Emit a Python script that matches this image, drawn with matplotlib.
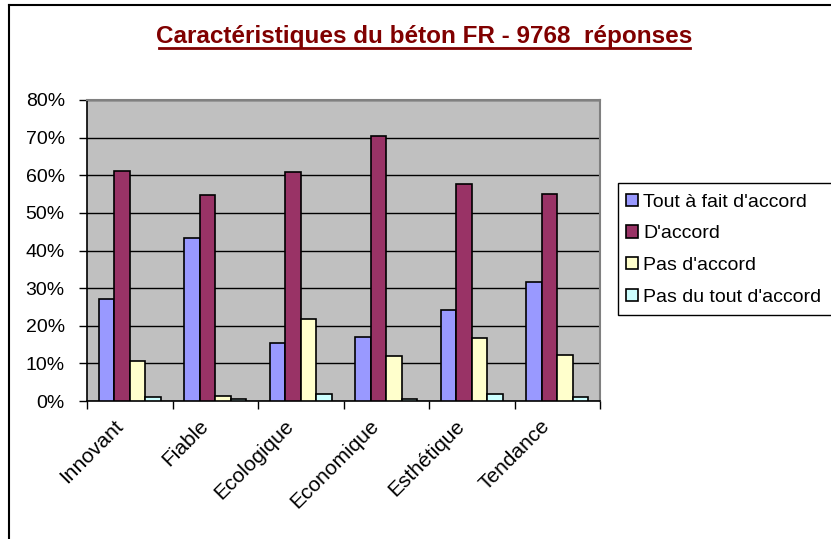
import matplotlib
matplotlib.use("Agg")
import matplotlib.pyplot as plt
import numpy as np
from matplotlib.patches import Rectangle
from matplotlib.lines import Line2D

categories = ["Innovant", "Fiable", "Ecologique", "Economique", "Esthétique", "Tendance"]
series_names = ["Tout à fait d'accord", "D'accord", "Pas d'accord", "Pas du tout d'accord"]
tout_a_fait = [27.1, 43.4, 15.3, 17.1, 24.1, 31.6]
d_accord = [61.2, 54.7, 60.8, 70.5, 57.7, 55.1]
pas_d_accord = [10.5, 1.4, 21.9, 11.9, 16.7, 12.3]
pas_du_tout = [1.0, 0.5, 1.9, 0.5, 1.9, 1.0]
colors = ["#9999FF", "#993366", "#FFFFCC", "#CCFFFF"]
yticks = [0, 10, 20, 30, 40, 50, 60, 70, 80]

plt.rcParams['font.family'] = ['Liberation Sans', 'DejaVu Sans']

W, H = 831, 539
fig = plt.figure(figsize=(W / 100, H / 100), dpi=100)
# outer border (top and left only visible)
fig.add_artist(Line2D([9 / W, 1], [1 - 5 / H, 1 - 5 / H], color='black', linewidth=1.5,
                      transform=fig.transFigure))
fig.add_artist(Line2D([9 / W, 9 / W], [0, 1 - 5 / H], color='black', linewidth=1.5,
                      transform=fig.transFigure))

ax = fig.add_axes([87 / W, 1 - 401 / H, (600 - 87) / W, (401 - 100) / H])
ax.set_facecolor("#C0C0C0")

x = np.arange(len(categories))
w = 0.18
allseries = [tout_a_fait, d_accord, pas_d_accord, pas_du_tout]
handles = []
for i, (vals, c, name) in enumerate(zip(allseries, colors, series_names)):
    b = ax.bar(x + (i - 1.5) * w, vals, width=w, color=c, edgecolor='black',
               linewidth=1.2, label=name, zorder=3)
    handles.append(b)

ax.set_xlim(-0.5, len(categories) - 0.5)
ax.set_ylim(0, 80)
ax.set_yticks(yticks)
ax.set_yticklabels([f"{v}%" for v in yticks], fontsize=14)
ax.yaxis.grid(True, color='black', linewidth=1, zorder=1)
ax.set_axisbelow(True)
ax.tick_params(axis='y', direction='out', length=6, width=1, pad=10)

# category labels (rotated), placed relative to category positions
ax.set_xticks(np.arange(-0.5, len(categories), 1.0))
ax.set_xticklabels([])
ax.tick_params(axis='x', direction='out', length=6, width=1)
for xi, lab in zip(x, categories):
    ax.annotate(lab, xy=(xi, 0), xycoords=('data', 'axes fraction'),
                xytext=(-10, -22), textcoords='offset pixels',
                rotation=45, ha='right', va='center', rotation_mode='anchor',
                fontsize=15, annotation_clip=False)

for s in ['top', 'right']:
    ax.spines[s].set_color('#808080')
    ax.spines[s].set_linewidth(1.5)
for s in ['left', 'bottom']:
    ax.spines[s].set_color('black')
    ax.spines[s].set_linewidth(1.2)

fig.text(424 / W, 1 - 37 / H, "Caractéristiques du béton FR - 9768  réponses",
         ha='center', va='center', fontsize=17.5, fontweight='bold', color='#800000')
fig.add_artist(Line2D([159 / W, 690 / W], [1 - 48 / H, 1 - 48 / H],
                      color='#800000', linewidth=2, transform=fig.transFigure))

# legend frame drawn manually (clipped by right edge as in the reference)
fig.add_artist(Rectangle((618 / W, 1 - 315 / H), 240 / W, 132 / H, transform=fig.transFigure,
                         facecolor='white', edgecolor='black', linewidth=1, zorder=4))
leg = fig.legend(handles, series_names, loc='upper left', bbox_to_anchor=(620 / W, 1 - 188 / H),
                 bbox_transform=fig.transFigure, fontsize=14, frameon=False,
                 handlelength=0.6, handleheight=0.6,
                 handletextpad=0.3, labelspacing=0.75, borderpad=0.3, borderaxespad=0)
leg.set_zorder(6)

fig.savefig("out.png", dpi=100, facecolor='white')
